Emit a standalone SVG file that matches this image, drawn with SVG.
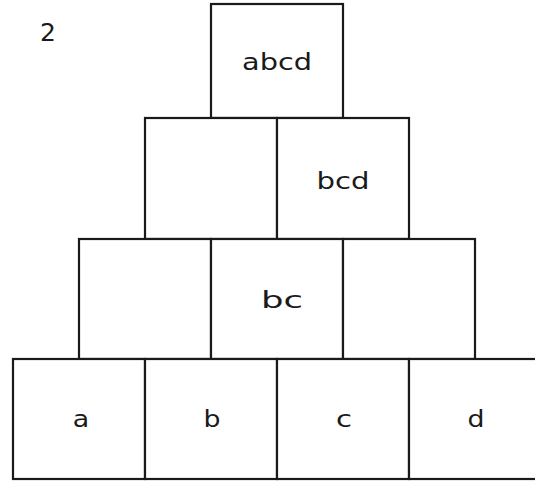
<svg xmlns="http://www.w3.org/2000/svg" width="535" height="483" viewBox="0 0 535 483">
<style>
.box{fill:#fff;stroke:#1a1a1a;stroke-width:2.2}
.t{font-family:"DejaVu Sans",sans-serif;font-size:23px;fill:#1a1a1a;text-anchor:middle}
</style>
<rect width="535" height="483" fill="#fff"/>
<text class="t" x="48" y="41" style="font-size:25px">2</text>
<g id="n-abcd"><rect class="box" x="211" y="4" width="132" height="114"/><text class="t" x="277" y="70" textLength="70" lengthAdjust="spacingAndGlyphs">abcd</text></g>
<g id="n-r2a"><rect class="box" x="145" y="118" width="132" height="121"/></g>
<g id="n-bcd"><rect class="box" x="277" y="118" width="132" height="121"/><text class="t" x="343" y="189" textLength="53" lengthAdjust="spacingAndGlyphs">bcd</text></g>
<g id="n-r3a"><rect class="box" x="79" y="239" width="132" height="120"/></g>
<g id="n-bc"><rect class="box" x="211" y="239" width="132" height="120"/><text class="t" x="282" y="308" textLength="42" lengthAdjust="spacingAndGlyphs">bc</text></g>
<g id="n-r3c"><rect class="box" x="343" y="239" width="132" height="120"/></g>
<g id="n-a"><rect class="box" x="13" y="359" width="132" height="120"/><text class="t" x="81" y="427" textLength="16.5" lengthAdjust="spacingAndGlyphs">a</text></g>
<g id="n-b"><rect class="box" x="145" y="359" width="132" height="120"/><text class="t" x="212" y="427" textLength="17" lengthAdjust="spacingAndGlyphs">b</text></g>
<g id="n-c"><rect class="box" x="277" y="359" width="132" height="120"/><text class="t" x="344" y="427" textLength="16" lengthAdjust="spacingAndGlyphs">c</text></g>
<g id="n-d"><rect class="box" x="409" y="359" width="132" height="120"/><text class="t" x="476" y="427" textLength="17" lengthAdjust="spacingAndGlyphs">d</text></g>
<g id="connectors"></g>
</svg>
